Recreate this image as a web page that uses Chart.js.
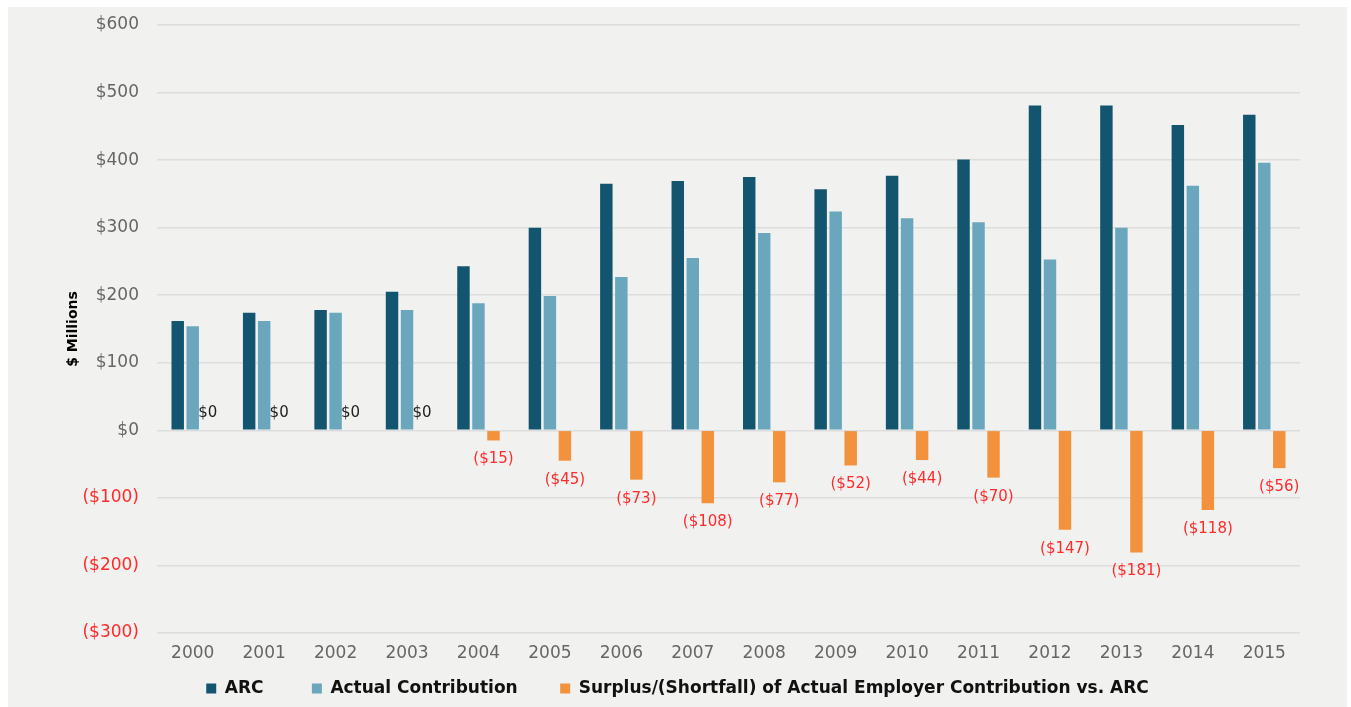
<!DOCTYPE html>
<html>
<head>
<meta charset="utf-8">
<script src="https://cdn.jsdelivr.net/npm/chart.js@4.4.0/dist/chart.umd.min.js"></script>
<style>
  html, body { margin: 0; padding: 0; background: #ffffff; }
  #panel {
    position: absolute; left: 8px; top: 7px;
    width: 1339px; height: 700px;
    background: #f1f1f0;
  }
  #chart { display: block; }
</style>
</head>
<body>
<div id="panel"><canvas id="chart" width="1339" height="700"></canvas></div>
<script>
const years = ["2000", "2001", "2002", "2003", "2004", "2005", "2006", "2007",
  "2008", "2009", "2010", "2011", "2012", "2013", "2014", "2015"];
const arc = [162, 174, 178, 205, 243, 300, 365, 369, 375, 357, 377, 401, 481, 481, 452, 467];
const actual = [154, 162, 174, 178, 188, 199, 227, 255, 292, 324, 314, 308, 253, 300, 362, 396];
const surplus = [0, 0, 0, 0, -15, -45, -73, -108, -77, -52, -44, -70, -147, -181, -118, -56];
const yTicks = [-300, -200, -100, 0, 100, 200, 300, 400, 500, 600];
const seriesNames = ["ARC", "Actual Contribution",
  "Surplus/(Shortfall) of Actual Employer Contribution vs. ARC"];

const FONT = "'DejaVu Sans', sans-serif";
const RED = "#ff2b2b";

function money(v) {
  return v < 0 ? "($" + (-v) + ")" : "$" + v;
}

// labels under / above the surplus bars
const surplusLabels = {
  id: "surplusLabels",
  afterDatasetsDraw(chart) {
    const ctx = chart.ctx;
    const meta = chart.getDatasetMeta(2);
    ctx.save();
    ctx.font = "15px " + FONT;
    ctx.textAlign = "center";
    ctx.textBaseline = "middle";
    meta.data.forEach((bar, i) => {
      const v = surplus[i];
      if (v === 0) {
        ctx.fillStyle = "#222222";
        ctx.fillText(money(v), bar.x, bar.y - 17);
      } else {
        ctx.fillStyle = RED;
        ctx.fillText(money(v), bar.x, bar.y + 19);
      }
    });
    ctx.restore();
  }
};

// extra space after the first two legend entries
const legendGaps = ["       ", "      ", ""];

new Chart(document.getElementById("chart").getContext("2d"), {
  type: "bar",
  data: {
    labels: years,
    datasets: [
      { label: seriesNames[0], data: arc, backgroundColor: "#13546f" },
      { label: seriesNames[1], data: actual, backgroundColor: "#6aa7bd" },
      { label: seriesNames[2], data: surplus, backgroundColor: "#f2923d" }
    ]
  },
  options: {
    responsive: false,
    animation: false,
    layout: { padding: { top: 18, right: 0, bottom: 0, left: 0 } },
    datasets: {
      bar: { categoryPercentage: 0.63, barPercentage: 0.83 }
    },
    plugins: {
      tooltip: { enabled: false },
      legend: {
        position: "bottom",
        labels: {
          color: "#111111",
          font: { family: FONT, size: 17, weight: "bold" },
          boxWidth: 10,
          boxHeight: 10,
          padding: 7,
          generateLabels(chart) {
            return Chart.defaults.plugins.legend.labels.generateLabels(chart)
              .map((item, i) => Object.assign(item, { text: item.text + legendGaps[i] }));
          }
        }
      }
    },
    scales: {
      x: {
        grid: { display: false },
        border: { display: false },
        afterFit(scale) { scale.height = 40; },
        ticks: {
          color: "#666666",
          font: { family: FONT, size: 17 },
          padding: 2
        }
      },
      y: {
        min: -300,
        max: 600,
        afterBuildTicks(scale) {
          scale.ticks = yTicks.map(v => ({ value: v }));
        },
        afterFit(scale) { scale.width = 149; },
        grid: { color: "#dddddd", lineWidth: 1.5, drawTicks: true, tickLength: 18, tickColor: "rgba(0,0,0,0)" },
        border: { display: false },
        ticks: {
          padding: 0,
          font: { family: FONT, size: 17 },
          color: ctx => (ctx.tick && ctx.tick.value < 0 ? RED : "#666666"),
          callback: v => money(v)
        },
        title: {
          display: true,
          text: "$ Millions",
          color: "#000000",
          font: { family: FONT, size: 14, weight: "bold" },
          padding: { top: 57, bottom: 0 }
        }
      },
      // empty right-hand strip so the plot ends where the reference does
      gap: {
        position: "right",
        grid: { display: false },
        border: { display: false },
        ticks: { display: false },
        afterFit(scale) { scale.width = 47; }
      }
    }
  },
  plugins: [surplusLabels]
});
</script>
</body>
</html>
